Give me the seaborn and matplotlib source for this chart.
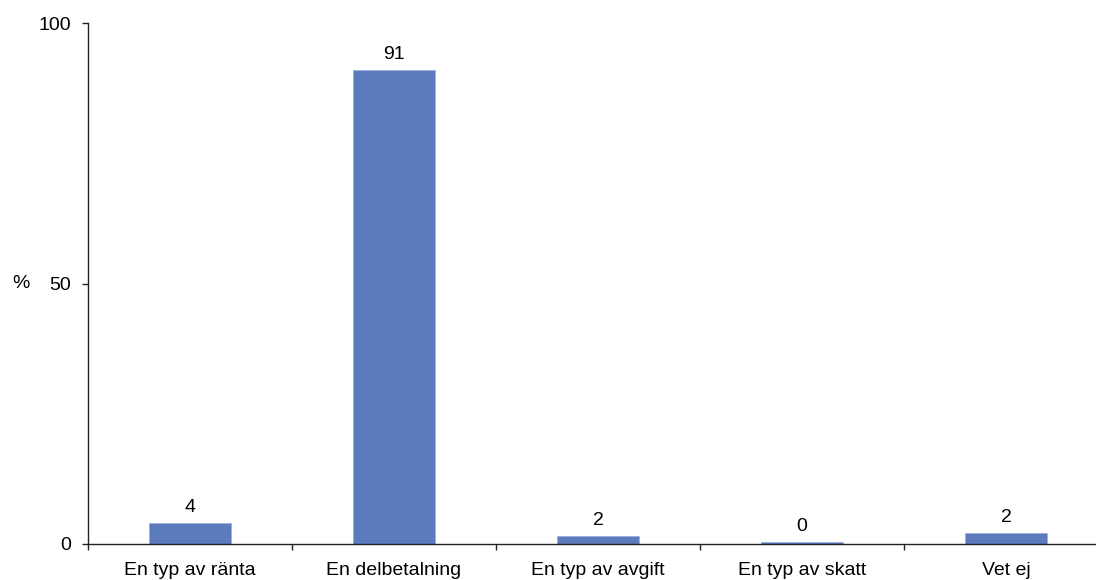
import seaborn as sns
import matplotlib.pyplot as plt
import pandas as pd

# data
categories = ['En typ av ränta', 'En delbetalning', 'En typ av avgift', 'En typ av skatt', 'Vet ej']
values = [4.0, 91.0, 1.6, 0.3, 2.2]
value_labels = ['4', '91', '2', '0', '2']

df = pd.DataFrame({'Svar': categories, 'Procent': values})

sns.set_style('white')
plt.rcParams['font.family'] = ['Liberation Sans', 'DejaVu Sans']
plt.rcParams['text.color'] = 'black'
plt.rcParams['xtick.color'] = 'black'
plt.rcParams['ytick.color'] = 'black'

fs = 14

fig = plt.figure(figsize=(10.96, 5.80), dpi=100)
ax = fig.add_axes([88 / 1096, 36 / 580, 1020 / 1096, 521 / 580])

sns.barplot(data=df, x='Svar', y='Procent', color='#5B7BBD', width=0.4,
            edgecolor='#9DB0DA', linewidth=0.6, saturation=1, ax=ax)

ax.bar_label(ax.containers[0], labels=value_labels, padding=5, fontsize=fs, color='black')

ax.set_ylim(0, 100)
ax.set_xlim(-0.5, len(categories) - 0.5)
ax.set_yticks([0, 50, 100])

# category boundaries get the tick marks, labels sit in between
ax.set_xticks([i + 0.5 for i in range(-1, len(categories))], minor=True)
ax.tick_params(axis='x', which='major', bottom=True, length=0, pad=13, labelsize=fs, labelcolor='black')
ax.tick_params(axis='x', which='minor', bottom=True, length=4.5, width=1, color='#222222', direction='out')
ax.tick_params(axis='y', left=True, length=4.5, width=1, color='#222222', direction='out', pad=8,
               labelsize=fs, labelcolor='black')

for side in ['top', 'right']:
    ax.spines[side].set_visible(False)
for side in ['left', 'bottom']:
    ax.spines[side].set_color('#222222')
    ax.spines[side].set_linewidth(1)

ax.set_xlabel('')
ax.set_ylabel('')
ax.text(21 / 1096, 50, '%', transform=ax.get_yaxis_transform().__class__(fig.transFigure, ax.transData),
        ha='center', va='center', fontsize=fs)

plt.savefig('out.png', dpi=100)
